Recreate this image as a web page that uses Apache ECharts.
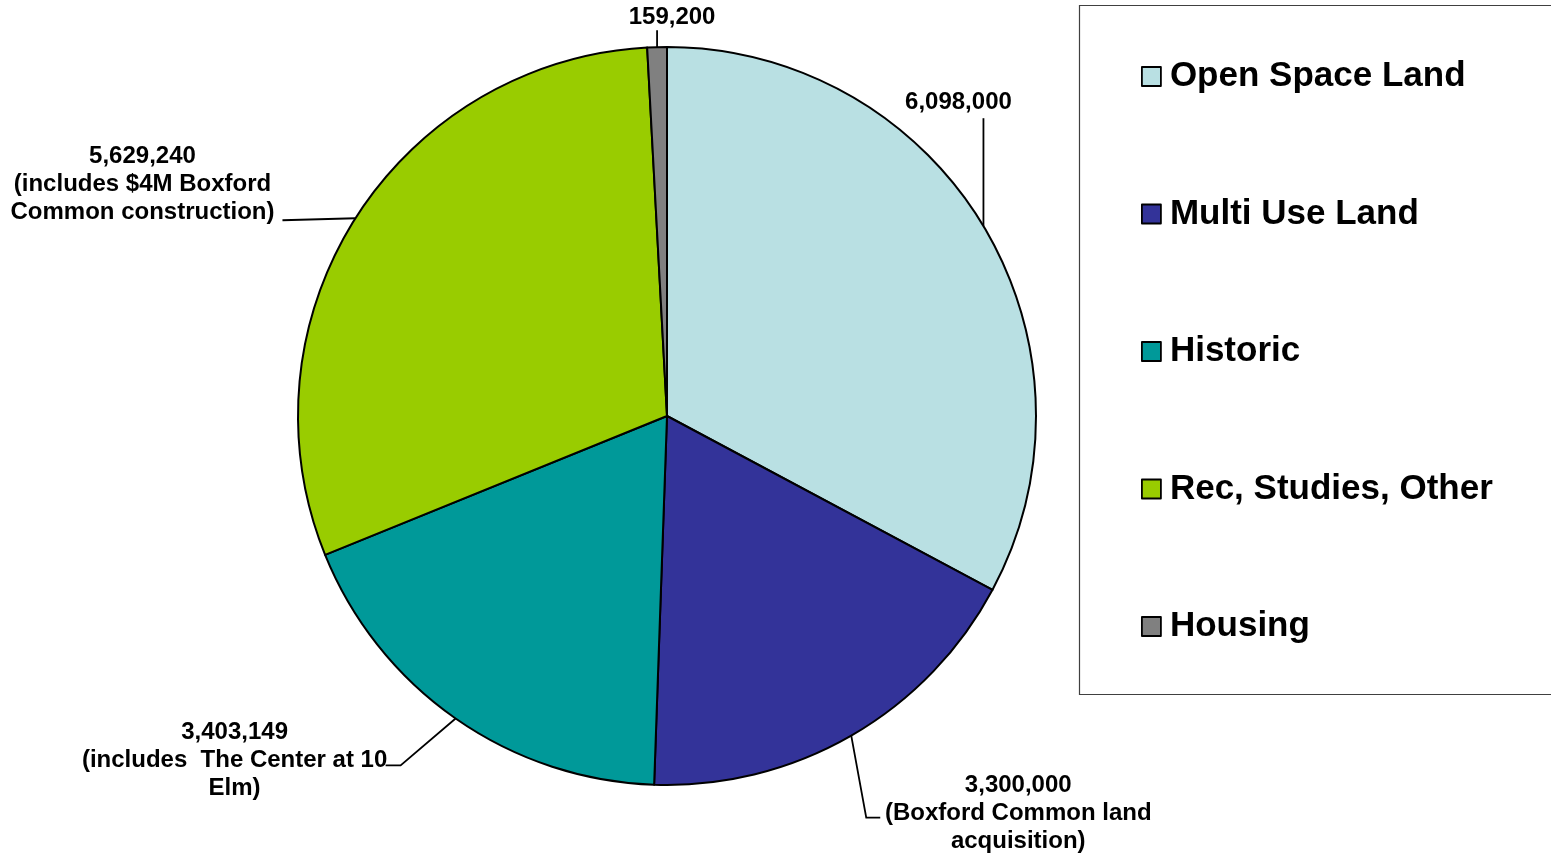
<!DOCTYPE html>
<html>
<head>
<meta charset="utf-8">
<script src="https://cdn.jsdelivr.net/npm/echarts@6/dist/echarts.min.js"></script>
<style>html,body{margin:0;padding:0;background:#fff}#c{width:1551px;height:861px}</style>
</head>
<body>
<div id="c"></div>
<script>
const categories = ['Open Space Land', 'Multi Use Land', 'Historic', 'Rec, Studies, Other', 'Housing'];
const values = [6098000, 3300000, 3403149, 5629240, 159200];
const notes = ['', '(Boxford Common land\nacquisition)', '(includes  The Center at 10\nElm)', '(includes $4M Boxford\nCommon construction)', ''];
const colors = ['#B9E0E3', '#333399', '#009999', '#99CC00', '#808080'];

// label placement relative to the slice's edge anchor: [label dx, label dy, line points relative to anchor]
const labelPlace = [
  { dx: -25, dy: -124, line: [[0, -108]] },
  { dx: 167, dy: 78, line: [[15, 82], [29, 82]] },
  { dx: -221, dy: 42, line: [[-55, 47], [-70, 47]] },
  { dx: -213, dy: -34, line: [[-73, 2]] },
  { dx: 15, dy: -30, line: [[0, -17]] }
];

const fmt = v => v.toLocaleString('en-US');
const FONT = '"Liberation Sans", Arial, sans-serif';

const chart = echarts.init(document.getElementById('c'), null, { renderer: 'canvas' });
chart.setOption({
  animation: false,
  backgroundColor: '#fff',
  color: colors,
  graphic: [{
    type: 'rect', left: 1077, top: 3,
    shape: { width: 473, height: 689 },
    style: { fill: 'none', stroke: '#404040', lineWidth: 1.2 }
  }],
  legend: {
    orient: 'vertical',
    left: 1136,
    top: 54,
    itemWidth: 19,
    itemHeight: 19,
    itemGap: 102.5,
    icon: 'rect',
    data: categories,
    textStyle: { fontFamily: FONT, fontWeight: 'bold', fontSize: 35, color: '#000', lineHeight: 35, padding: [0, 0, 0, 4] },
    itemStyle: { borderColor: '#000', borderWidth: 1.8 }
  },
  series: [{
    type: 'pie',
    center: [667, 416],
    radius: 369,
    startAngle: 90,
    clockwise: true,
    avoidLabelOverlap: false,
    minShowLabelAngle: 0,
    itemStyle: { borderColor: '#000', borderWidth: 2 },
    label: {
      show: true,
      position: 'outside',
      fontFamily: FONT,
      fontWeight: 'bold',
      fontSize: 24,
      lineHeight: 28,
      color: '#000',
      align: 'center',
      formatter: p => fmt(p.value) + (notes[p.dataIndex] ? '\n' + notes[p.dataIndex] : '')
    },
    labelLine: { show: true, length: 20, length2: 10, lineStyle: { color: '#000', width: 1.8 } },
    labelLayout: function (params) {
      const pl = labelPlace[params.dataIndex];
      const a = params.labelLinePoints && params.labelLinePoints[0];
      if (!a) return {};
      const pts = [[a[0], a[1]]].concat(pl.line.map(d => [a[0] + d[0], a[1] + d[1]]));
      return {
        x: a[0] + pl.dx,
        y: a[1] + pl.dy,
        align: 'center',
        verticalAlign: 'middle',
        labelLinePoints: pts
      };
    },
    data: categories.map((c, i) => ({ name: c, value: values[i] }))
  }]
});
</script>
</body>
</html>
